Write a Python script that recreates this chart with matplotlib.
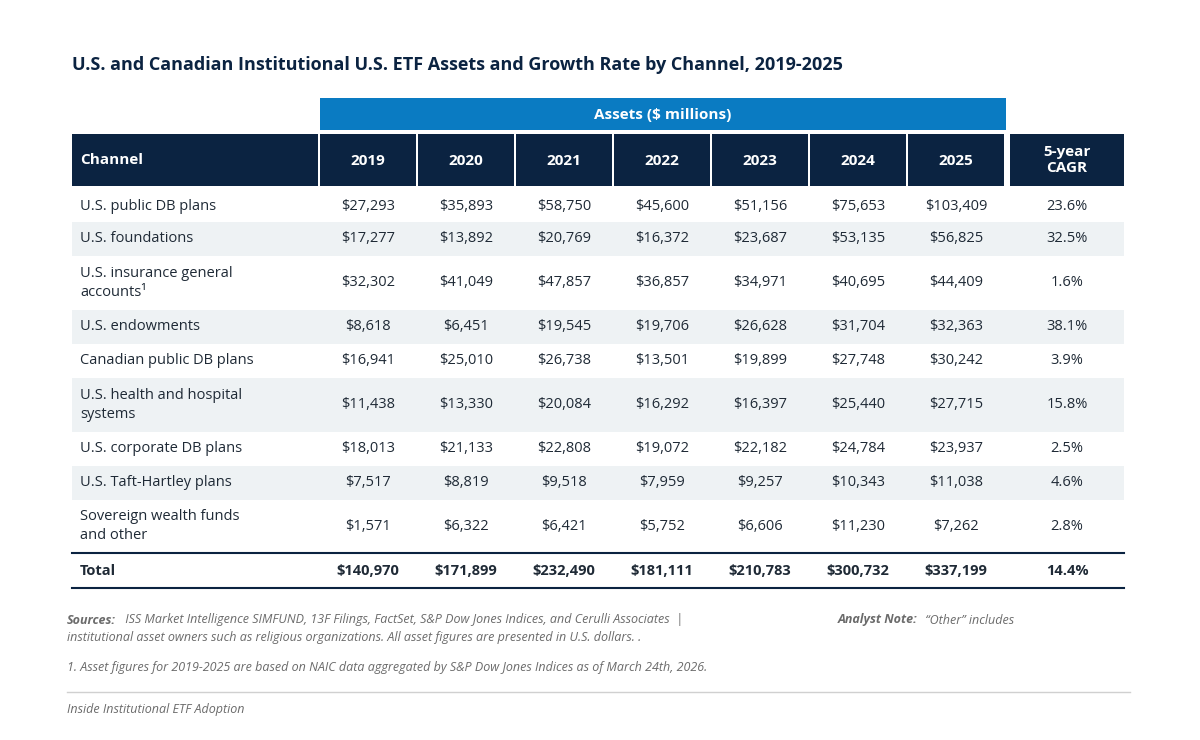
import matplotlib
matplotlib.use("Agg")
import matplotlib.pyplot as plt
from matplotlib.patches import Rectangle

plt.rcParams['font.family'] = ['Open Sans', 'DejaVu Sans']

title = "U.S. and Canadian Institutional U.S. ETF Assets and Growth Rate by Channel, 2019-2025"
years = ["2019", "2020", "2021", "2022", "2023", "2024", "2025"]
channels = ["U.S. public DB plans", "U.S. foundations", "U.S. insurance general\naccounts\u00b9",
            "U.S. endowments", "Canadian public DB plans", "U.S. health and hospital\nsystems",
            "U.S. corporate DB plans", "U.S. Taft-Hartley plans", "Sovereign wealth funds\nand other"]
assets = [
    [27293, 35893, 58750, 45600, 51156, 75653, 103409],
    [17277, 13892, 20769, 16372, 23687, 53135, 56825],
    [32302, 41049, 47857, 36857, 34971, 40695, 44409],
    [8618, 6451, 19545, 19706, 26628, 31704, 32363],
    [16941, 25010, 26738, 13501, 19899, 27748, 30242],
    [11438, 13330, 20084, 16292, 16397, 25440, 27715],
    [18013, 21133, 22808, 19072, 22182, 24784, 23937],
    [7517, 8819, 9518, 7959, 9257, 10343, 11038],
    [1571, 6322, 6421, 5752, 6606, 11230, 7262],
]
cagr = ["23.6%", "32.5%", "1.6%", "38.1%", "3.9%", "15.8%", "2.5%", "4.6%", "2.8%"]
totals = [140970, 171899, 232490, 181111, 210783, 300732, 337199]
total_cagr = "14.4%"

navy = "#0b2341"
blue = "#0a7bc2"
shade = "#eef2f4"
txt = "#1f2a36"
grey = "#6b6b6b"

fig = plt.figure(figsize=(12, 7.4), dpi=100)
ax = fig.add_axes([0, 0, 1, 1])
ax.set_xlim(0, 1200)
ax.set_ylim(740, 0)
ax.axis("off")

ax.text(72, 65, title, fontsize=13, fontweight="bold", color=navy, va="center")

# column geometry
yl = [320 + 98 * i for i in range(7)]
yw = 96
cx = [x + yw / 2 for x in yl]
cagr_l, cagr_w = 1010, 114
cagr_c = cagr_l + cagr_w / 2

ax.add_patch(Rectangle((320, 98), 686, 32, color=blue, lw=0))
ax.text(663, 115, "Assets ($ millions)", color="white", fontsize=11, fontweight="bold",
        ha="center", va="center")

ax.add_patch(Rectangle((72, 134), 246, 52, color=navy, lw=0))
ax.text(80, 160, "Channel", color="white", fontsize=11, fontweight="bold", va="center")
for x, c, y in zip(yl, cx, years):
    ax.add_patch(Rectangle((x, 134), yw, 52, color=navy, lw=0))
    ax.text(c, 161, y, color="white", fontsize=11, fontweight="bold", ha="center", va="center")
ax.add_patch(Rectangle((cagr_l, 134), cagr_w, 52, color=navy, lw=0))
ax.text(cagr_c, 160, "5-year\nCAGR", color="white", fontsize=11, fontweight="bold",
        ha="center", va="center", linespacing=1.2)

row_h = [32, 34, 54, 34, 34, 54, 34, 34, 52]
top = 190
for i, (ch, vals, cg) in enumerate(zip(channels, assets, cagr)):
    h = row_h[i]
    if i % 2 == 1:
        ax.add_patch(Rectangle((72, top), 1052, h, color=shade, lw=0))
    mid = top + h / 2
    ax.text(80, mid, ch, fontsize=10.5, color=txt, va="center", linespacing=1.3)
    for c, v in zip(cx, vals):
        ax.text(c, mid, f"${v:,}", fontsize=10.5, color=txt, ha="center", va="center")
    ax.text(cagr_c, mid, cg, fontsize=10.5, color=txt, ha="center", va="center")
    top += h

ax.plot([72, 1124], [553, 553], color=navy, lw=1.5)
ax.plot([72, 1124], [588, 588], color=navy, lw=1.5)
ax.text(80, 571, "Total", fontsize=10.5, fontweight="bold", color=txt, va="center")
for c, v in zip(cx, totals):
    ax.text(c, 571, f"${v:,}", fontsize=10.5, fontweight="bold", color=txt, ha="center", va="center")
ax.text(cagr_c, 571, total_cagr, fontsize=10.5, fontweight="bold", color=txt, ha="center", va="center")

src = (r"$\bf{Sources:}$ ISS Market Intelligence SIMFUND, 13F Filings, FactSet, S&P Dow Jones Indices, and Cerulli Associates  |  "
       r"$\bf{Analyst\ Note:}$ \u201cOther\u201d includes")
ax.text(67, 620, "Sources:", fontsize=9, style="italic", fontweight="bold", color=grey, va="center")
ax.text(122, 620, " ISS Market Intelligence SIMFUND, 13F Filings, FactSet, S&P Dow Jones Indices, and Cerulli Associates  |  ",
        fontsize=9, style="italic", color=grey, va="center")
ax.text(838, 620, "Analyst Note:", fontsize=9, style="italic", fontweight="bold", color=grey, va="center")
ax.text(922, 620, " \u201cOther\u201d includes", fontsize=9, style="italic", color=grey, va="center")
ax.text(67, 637, "institutional asset owners such as religious organizations. All asset figures are presented in U.S. dollars. .",
        fontsize=9, style="italic", color=grey, va="center")
ax.text(67, 667, "1. Asset figures for 2019-2025 are based on NAIC data aggregated by S&P Dow Jones Indices as of March 24th, 2026.",
        fontsize=9, style="italic", color=grey, va="center")
ax.plot([67, 1130], [692, 692], color="#d0d0d0", lw=1)
ax.text(67, 709, "Inside Institutional ETF Adoption", fontsize=9, style="italic", color=grey, va="center")

fig.savefig("out.png", dpi=100)
